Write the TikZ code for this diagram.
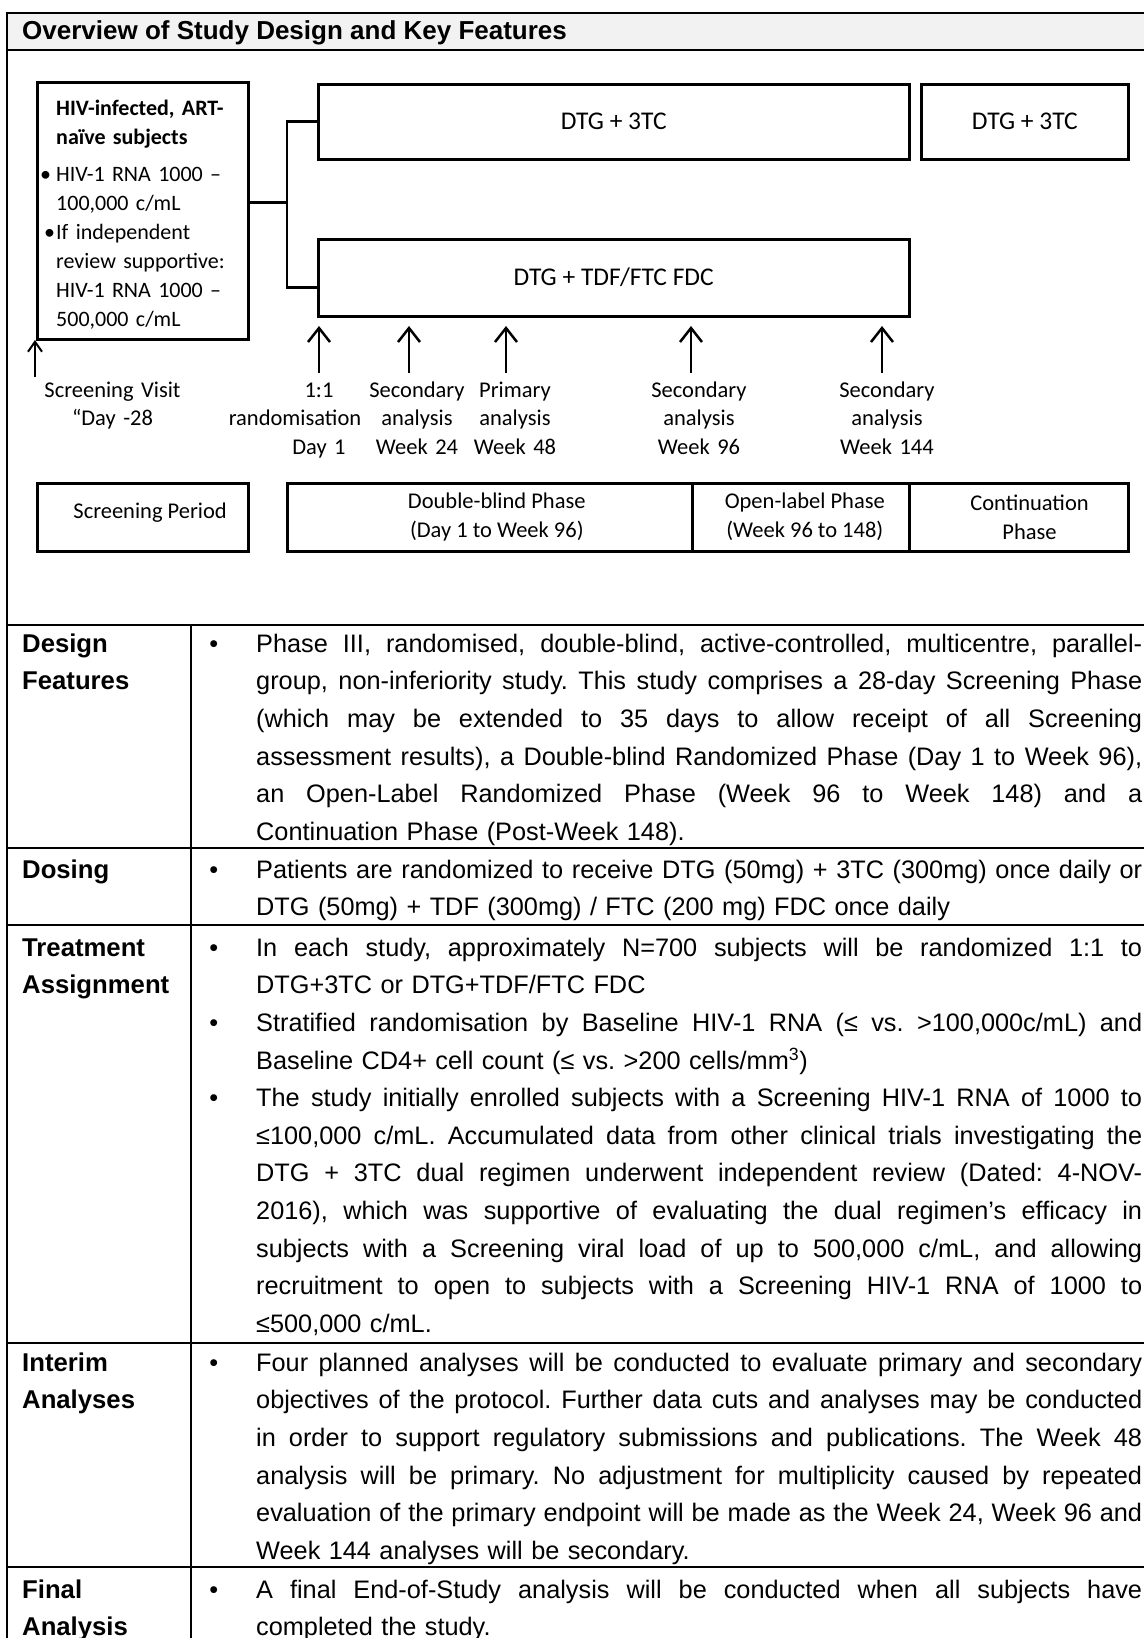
\documentclass[tikz,border=0pt]{standalone}
\usepackage{fontspec}
\setmainfont{Liberation Sans}
\newfontfamily\diagfont{Carlito}
\usetikzlibrary{arrows.meta,positioning}

\definecolor{hdrgray}{HTML}{F2F2F2}

\newcommand\jl[1]{\leavevmode\hbox to 886pt{\spaceskip=.278em plus 1fil minus .1em\relax\strut#1}}
\newcommand\bul{\llap{\textbullet\hspace{38pt}}}
\newcommand\hivbul[1]{\leavevmode\llap{\textbullet\hspace{#1}}}

\begin{document}
\frenchspacing
\begin{tikzpicture}[x=1pt,y=-1pt,
    rule/.style={line width=2pt},
    armbox/.style={draw,line width=3pt,inner sep=0pt,outer sep=0pt,anchor=north west,font=\diagfont\fontsize{25.5}{30}\selectfont},
    phasebox/.style={draw,line width=3pt,inner sep=0pt,outer sep=0pt,anchor=north west,minimum height=68},
    phasetxt/.style={align=center,inner sep=0pt,font=\diagfont\fontsize{22.5}{29}\selectfont},
    link/.style={line width=2.6pt},
    tparrow/.style={line width=2.5pt,-{Straight Barb[length=14pt,width=22pt]}},
    tplabel/.style={text width=200pt,align=center,inner sep=0pt,font=\diagfont\fontsize{22.5}{28.5}\selectfont},
    rowhead/.style={anchor=north west,inner sep=0pt,text width=165pt,align=left,font=\bfseries\fontsize{25.7}{37.6}\selectfont},
    rowtext/.style={anchor=north west,inner sep=0pt,text width=886pt,align=left,font=\fontsize{25.3}{37.6}\selectfont}]

\useasboundingbox (0,0) rectangle (1144,1638);

\def\tailY{373}
\def\tipY{326}

\newcommand\timepoint[4]
{
    \coordinate (#1tail) at (#2,\tailY);
    \coordinate (#1tip) at (#2,\tipY);
    \draw [tparrow] (#1tail) -- (#1tip);
    \node (#1) [tplabel,below=4pt of #1tail,xshift=#3] {\strut #4};
}

\fill [hdrgray] (6.5,12.5) rectangle (1144,49.5);
\node (title) [anchor=base west,inner sep=0pt,font=\bfseries\fontsize{26}{30}\selectfont] at (22,39.5) {Overview of Study Design and Key Features};

\draw [rule] (6.5,12.5) -- (1144,12.5);
\foreach \y in {49.5,625,847.5,924.5,1342.5,1567}
    \draw [rule] (6.5,\y) -- (1144,\y);
\draw [rule] (6.5,11.5) -- (6.5,1638);
\draw [rule] (191,625) -- (191,1638);

\node (elig) [armbox,minimum width=211,minimum height=256.5] at (37.6,82.5) {};
\node (eligtxt) [anchor=north west,inner sep=0pt,text width=190pt,align=left,font=\diagfont\fontsize{22}{29}\selectfont] at (56,95)
{\strut\textbf{HIV-infected, ART-}\\\textbf{naïve subjects}\\[8pt]\hivbul{5pt}HIV-1 RNA 1000 –\\100,000 c/mL\\\hivbul{1pt}If independent\\review supportive:\\HIV-1 RNA 1000 –\\500,000 c/mL};

\node (armdual) [armbox,minimum width=590.5,minimum height=75] at (318.5,84) {DTG + 3TC};
\node (armcont) [armbox,minimum width=207,minimum height=75] at (921.4,84) {DTG + 3TC};
\node (armtriple) [armbox,minimum width=590.5,minimum height=77] at (318.5,239) {DTG + TDF/FTC FDC};

\coordinate (fork) at (287,202.5);
\draw [link] (elig.east |- fork) -- (fork);
\draw [link] (armdual.west) -| (fork) |- ([yshift=-10pt]armtriple.west);

\coordinate (scrtail) at (35,377);
\coordinate (scrtip) at (35,340);
\draw [line width=2pt,-{Straight Barb[length=10pt,width=14pt]}] (scrtail) -- (scrtip);
\node (scrvisit) [tplabel,anchor=north] at (112.5,377) {\strut Screening Visit\\“Day -28};

\timepoint{rand}{319}{0pt}{1:1\\randomisation\hspace{48pt}\null\\Day 1}
\timepoint{wkA}{409}{8pt}{Secondary\\analysis\\Week 24}
\timepoint{wkB}{506}{9pt}{Primary\\analysis\\Week 48}
\timepoint{wkC}{691}{8pt}{Secondary\\analysis\\Week 96}
\timepoint{wkD}{882}{5pt}{Secondary\\analysis\\Week 144}

\node (scrper) [phasebox,minimum width=211] at (37.6,483) {};
\node (dblind) [phasebox,minimum width=405.6] at (287,483) {};
\node (olab) [phasebox,minimum width=216.4] at (692.6,483) {};
\node (cont) [phasebox,minimum width=219] at (909,483) {};
\node (scrpertxt) [phasetxt] at ([xshift=7pt,yshift=4pt]scrper.center) {Screening Period};
\node (dblindtxt) [phasetxt] at ([xshift=7pt]dblind.center) {Double-blind Phase\\(Day 1 to Week 96)};
\node (olabtxt) [phasetxt] at ([xshift=4pt]olab.center) {Open-label Phase\\(Week 96 to 148)};
\node (conttxt) [phasetxt] at ([xshift=11pt]cont.center) {Continuation\\Phase};

\node (designhd) [rowhead] at (22,625.7) {\strut Design\\Features};
\node (designtxt) [rowtext] at (256,625.7)
{\jl{\bul Phase III, randomised, double-blind, active-controlled, multicentre, parallel-}\\
\jl{group, non-inferiority study. This study comprises a 28-day Screening Phase}\\
\jl{(which may be extended to 35 days to allow receipt of all Screening}\\
\jl{assessment results), a Double-blind Randomized Phase (Day 1 to Week 96),}\\
\jl{an Open-Label Randomized Phase (Week 96 to Week 148) and a}\\
\strut Continuation Phase (Post-Week 148).};

\node (dosehd) [rowhead] at (22,851.7) {\strut Dosing};
\node (dosetxt) [rowtext] at (256,851.7)
{\jl{\bul Patients are randomized to receive DTG (50mg) + 3TC (300mg) once daily or}\\
\strut DTG (50mg) + TDF (300mg) / FTC (200 mg) FDC once daily};

\node (assignhd) [rowhead] at (22,929.7) {\strut Treatment\\Assignment};
\node (assigntxt) [rowtext] at (256,929.7)
{\jl{\bul In each study, approximately N=700 subjects will be randomized 1:1 to}\\
\strut DTG+3TC or DTG+TDF/FTC FDC\\
\jl{\bul Stratified randomisation by Baseline HIV-1 RNA (≤ vs. >100,000c/mL) and}\\
\strut Baseline CD4+ cell count (≤ vs. >200 cells/mm\textsuperscript{3})\\
\jl{\bul The study initially enrolled subjects with a Screening HIV-1 RNA of 1000 to}\\
\jl{≤100,000 c/mL. Accumulated data from other clinical trials investigating the}\\
\jl{DTG + 3TC dual regimen underwent independent review (Dated: 4-NOV-}\\
\jl{2016), which was supportive of evaluating the dual regimen’s efficacy in}\\
\jl{subjects with a Screening viral load of up to 500,000 c/mL, and allowing}\\
\jl{recruitment to open to subjects with a Screening HIV-1 RNA of 1000 to}\\
\strut ≤500,000 c/mL.};

\node (interimhd) [rowhead] at (22,1344.7) {\strut Interim\\Analyses};
\node (interimtxt) [rowtext] at (256,1344.7)
{\jl{\bul Four planned analyses will be conducted to evaluate primary and secondary}\\
\jl{objectives of the protocol. Further data cuts and analyses may be conducted}\\
\jl{in order to support regulatory submissions and publications. The Week 48}\\
\jl{analysis will be primary. No adjustment for multiplicity caused by repeated}\\
\jl{evaluation of the primary endpoint will be made as the Week 24, Week 96 and}\\
\strut Week 144 analyses will be secondary.};

\node (finalhd) [rowhead] at (22,1571.7) {\strut Final\\Analysis};
\node (finaltxt) [rowtext] at (256,1571.7)
{\jl{\bul A final End-of-Study analysis will be conducted when all subjects have}\\
\strut completed the study.};

\end{tikzpicture}
\end{document}
